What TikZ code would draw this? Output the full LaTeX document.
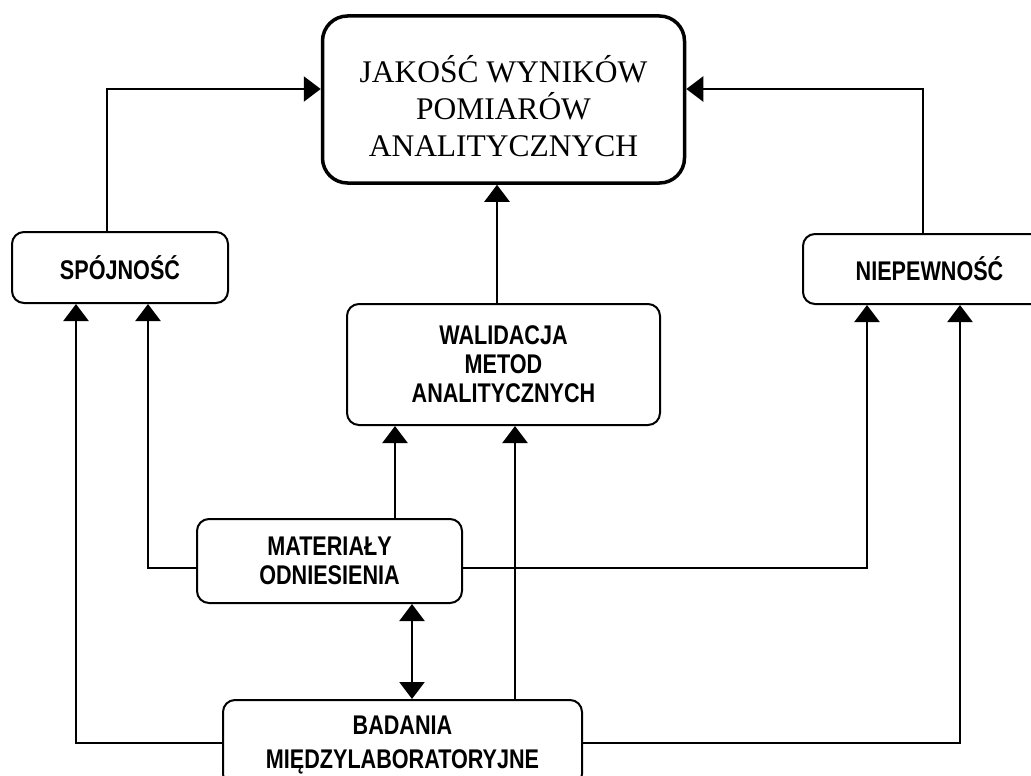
\documentclass[tikz,border=0pt]{standalone}
\usepackage{fontspec}
\setmainfont{Liberation Serif}
\newfontfamily\labelfont[FakeStretch=0.8]{Liberation Sans}
\usetikzlibrary{arrows.meta}
\begin{document}
\begin{tikzpicture}[x=1pt,y=-1pt,
  mainbox/.style={draw, line width=3.5pt, rounded corners=25pt, minimum width=362pt, minimum height=167pt, inner sep=0pt},
  maintext/.style={align=center, inner sep=0pt, font=\fontsize{31.5}{37}\selectfont},
  box/.style={draw, line width=2pt, rounded corners=12pt, inner sep=0pt, align=center,
    font=\labelfont\bfseries\fontsize{27}{29}\selectfont},
  link/.style={line width=2.2pt},
  arr/.style={link, -{Triangle[width=25pt,length=17pt]}},
  dblarr/.style={link, {Triangle[width=25pt,length=17pt]}-{Triangle[width=25pt,length=17pt]}}]
\useasboundingbox (0,0) rectangle (1031,776);

% boxes
\node[mainbox] (q) at (503.5,99.5) {};
\node[maintext] (qt) at (503.5,106) {JAKOŚĆ WYNIKÓW\\POMIARÓW\\ANALITYCZNYCH};
\node[box, minimum width=216pt, minimum height=71pt] (sp) at (120,267.5) {SPÓJNOŚĆ};
\node[box, minimum width=253pt, minimum height=70pt] (ni) at (929.5,269) {NIEPEWNOŚĆ};
\node[box, minimum width=313pt, minimum height=121pt] (wa) at (503.5,364.5) {WALIDACJA\\METOD\\ANALITYCZNYCH};
\node[box, minimum width=265pt, minimum height=84pt] (ma) at (329.5,561) {MATERIAŁY\\ODNIESIENIA};
\node[box, minimum width=359pt, minimum height=86pt] (ba) at (402.5,743) {};
\node[box, draw=none, font=\labelfont\bfseries\fontsize{27}{34}\selectfont] (bt) at (402.5,745) {BADANIA\\MIĘDZYLABORATORYJNE};

% into the top box
\draw[arr] ([xshift=-13pt]sp.north) |- ([yshift=10.5pt]q.west);
\draw[arr] ([xshift=-6.5pt]ni.north) |- ([yshift=10.5pt]q.east);
\draw[arr] ([xshift=-6.5pt]wa.north) -- ([xshift=-6.5pt]q.south);

% from reference materials
\draw[arr] ([xshift=65.5pt]ma.north) -- ([xshift=-108.5pt]wa.south);
\draw[arr] ([yshift=-7pt]ma.west) -| ([xshift=28pt]sp.south);
\draw[arr] ([yshift=-7pt]ma.east) -| ([xshift=-62.5pt]ni.south);
\draw[dblarr] ([xshift=82.5pt]ma.south) -- ([xshift=9.5pt]ba.north);

% from interlaboratory studies
\draw[arr] ([xshift=112.5pt]ba.north) -- ([xshift=11.5pt]wa.south);
\draw[arr] (ba.west) -| ([xshift=-44pt]sp.south);
\draw[arr] (ba.east) -| ([xshift=30.5pt]ni.south);
\end{tikzpicture}
\end{document}
